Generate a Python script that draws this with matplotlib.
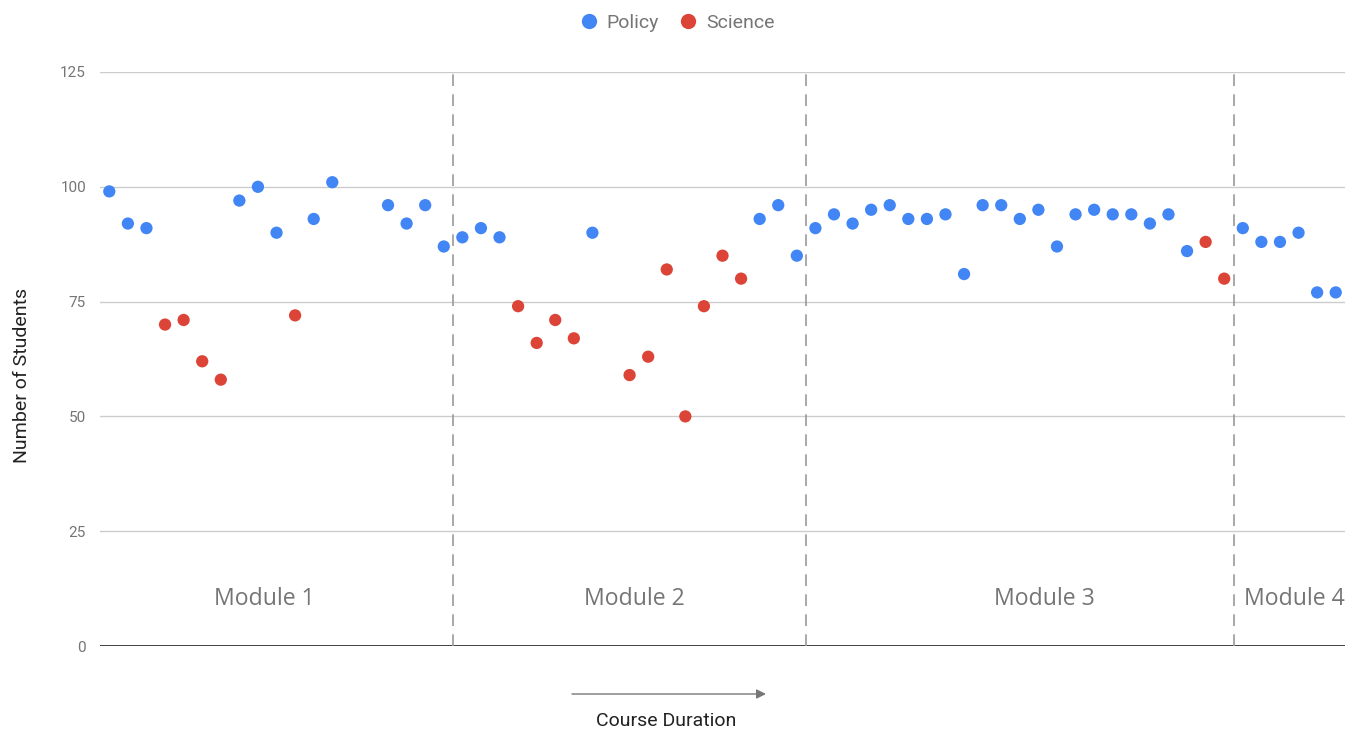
import matplotlib
matplotlib.use("Agg")
import matplotlib.pyplot as plt
from matplotlib.lines import Line2D

# ---- data ----
policy_x = [0, 1, 2, 7, 8, 9, 11, 12, 15, 16, 17, 18, 19, 20, 21, 26,
            35, 36, 37, 38, 39, 40, 41, 42, 43, 44, 45, 46, 47, 48, 49, 50,
            51, 52, 53, 54, 55, 56, 57, 58, 61, 62, 63, 64, 65, 66]
policy_y = [99, 92, 91, 97, 100, 90, 93, 101, 96, 92, 96, 87, 89, 91, 89, 90,
            93, 96, 85, 91, 94, 92, 95, 96, 93, 93, 94, 81, 96, 96, 93, 95,
            87, 94, 95, 94, 94, 92, 94, 86, 91, 88, 88, 90, 77, 77]
science_x = [3, 4, 5, 6, 10, 22, 23, 24, 25, 28, 29, 30, 31, 32, 33, 34, 59, 60]
science_y = [70, 71, 62, 58, 72, 74, 66, 71, 67, 59, 63, 82, 50, 74, 85, 80, 88, 80]
module_names = ["Module 1", "Module 2", "Module 3", "Module 4"]
module_bounds = [18.5, 37.5, 60.5]
y_ticks = [0, 25, 50, 75, 100, 125]

# ---- layout ----
module_label_x = [8.33, 28.24, 50.3, 63.8]
module_label_y = 10.3

BLUE = "#4285F4"
RED = "#DB4437"

fig = plt.figure(figsize=(13.62, 7.31), dpi=100)
ax = fig.add_axes([100/1362, 1-646/731, 1245/1362, (646-72)/731])

ax.set_xlim(-0.5, 66.5)
ax.set_ylim(0, 125)

for v in y_ticks[1:]:
    ax.axhline(v, color="#cccccc", lw=1, zorder=0)
ax.axhline(0, color="#333333", lw=1.3, zorder=1)

for b in module_bounds:
    ax.axvline(b, color="#999999", lw=1.2, ls=(0, (7, 5)), zorder=1)

ax.scatter(policy_x, policy_y, s=78, color=BLUE, edgecolors="none", zorder=3)
ax.scatter(science_x, science_y, s=78, color=RED, edgecolors="none", zorder=3)

for name, xx in zip(module_names, module_label_x):
    ax.text(xx, module_label_y, name, ha="center", va="center",
            fontsize=16.6, color="#757575", family="Open Sans")

ax.set_yticks(y_ticks)
ax.set_yticklabels([str(v) for v in y_ticks], family="Roboto", fontsize=11, color="#757575")
ax.tick_params(axis="y", length=0, pad=10)
ax.set_xticks([])
for s in ax.spines.values():
    s.set_visible(False)

fig.text(22/1362, 1-375/731, "Number of Students", rotation=90, ha="center", va="center",
         family="Roboto", fontsize=14, color="#222222")
fig.text(666/1362, 1-721/731, "Course Duration", ha="center", va="center",
         family="Roboto", fontsize=14, color="#222222")

ax.annotate("", xy=(766/1362, 1-694/731), xytext=(572/1362, 1-694/731),
            xycoords="figure fraction", textcoords="figure fraction",
            arrowprops=dict(arrowstyle="-|>", color="#777777", lw=1,
                            mutation_scale=14, shrinkA=0, shrinkB=0))

handles = [Line2D([], [], marker="o", ls="none", markersize=11, color=BLUE, markeredgewidth=0),
           Line2D([], [], marker="o", ls="none", markersize=11, color=RED, markeredgewidth=0)]
fig.legend(handles, ["Policy", "Science"], loc="center", bbox_to_anchor=(678/1362, 1-22.5/731),
           ncol=2, frameon=False, handlelength=0.8, handletextpad=0.5, columnspacing=1.1,
           borderpad=0, borderaxespad=0,
           prop={"family": "Roboto", "size": 14}, labelcolor="#757575")

fig.savefig("out.png", dpi=100, facecolor="white")
